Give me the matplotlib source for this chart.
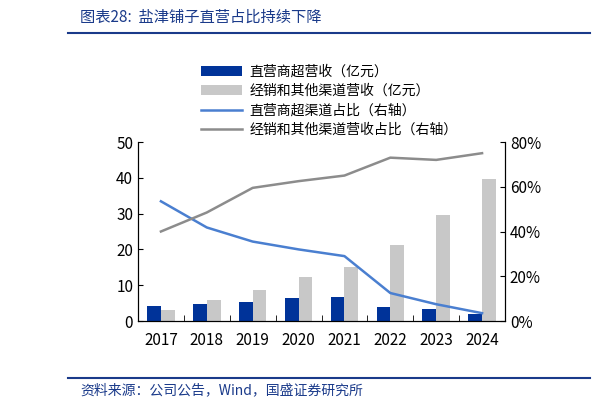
import matplotlib.pyplot as plt
import numpy as np

plt.rcParams['font.family'] = ['Noto Sans CJK SC', 'DejaVu Sans']

years = ['2017', '2018', '2019', '2020', '2021', '2022', '2023', '2024']
direct_rev = [4.3, 4.8, 5.2, 6.5, 6.8, 4.0, 3.4, 2.0]
dealer_rev = [3.2, 5.8, 8.6, 12.3, 15.0, 21.2, 29.7, 39.8]
direct_pct = [53.5, 41.8, 35.5, 32.0, 29.0, 12.5, 7.5, 3.5]
dealer_pct = [40.0, 48.5, 59.5, 62.5, 65.0, 73.0, 72.0, 75.0]

W, H = 612, 411
fig = plt.figure(figsize=(W / 100, H / 100), dpi=100)
ax = fig.add_axes([138 / W, 1 - 321 / H, (505 - 138) / W, (321 - 142) / H])
ax2 = ax.twinx()

x = np.arange(len(years))
bw = 0.3
b1 = ax.bar(x - bw / 2, direct_rev, bw, color='#003399', label='直营商超营收（亿元）')
b2 = ax.bar(x + bw / 2, dealer_rev, bw, color='#c8c8c8', label='经销和其他渠道营收（亿元）')
l1, = ax2.plot(x, direct_pct, color='#4a7fd0', lw=1.8, label='直营商超渠道占比（右轴）')
l2, = ax2.plot(x, dealer_pct, color='#8c8c8c', lw=1.8, label='经销和其他渠道营收占比（右轴）')

ax.set_xlim(-0.5, len(years) - 0.5)
ax.set_ylim(0, 50)
ax.set_yticks(range(0, 51, 10))
ax2.set_ylim(0, 80)
ax2.set_yticks(range(0, 81, 20))
ax2.set_yticklabels([f'{v}%' for v in range(0, 81, 20)])
ax.set_xticks(x)
ax.set_xticklabels(years)
ax.set_xticks(np.arange(-0.5, len(years)), minor=True)
ax.tick_params(axis='x', which='major', length=0, labelsize=11, pad=8)
ax.tick_params(axis='x', which='minor', length=4, direction='in')
for a in (ax, ax2):
    a.tick_params(axis='y', labelsize=11, direction='in')
    a.spines['top'].set_visible(False)

fig.legend(handles=[b1, b2, l1, l2], loc='upper left', bbox_to_anchor=(188 / W, 1 - 52 / H),
           frameon=False, fontsize=10, handlelength=3, handletextpad=0.5, labelspacing=0.4)

fig.text(80 / W, 1 - 17 / H, '图表28:  盐津铺子直营占比持续下降', fontsize=11, style='italic',
         color='#1a3a8a', va='center')
fig.add_artist(plt.Line2D([68 / W, 590 / W], [1 - 33 / H, 1 - 33 / H], color='#1a3a8a', lw=1.5))
fig.add_artist(plt.Line2D([68 / W, 590 / W], [1 - 378 / H, 1 - 378 / H], color='#1a3a8a', lw=1.5))
fig.text(80 / W, 1 - 390 / H, '资料来源：公司公告，Wind，国盛证券研究所', fontsize=10, style='italic',
         color='#1a3a8a', va='center')

fig.savefig('out.png', dpi=100)
